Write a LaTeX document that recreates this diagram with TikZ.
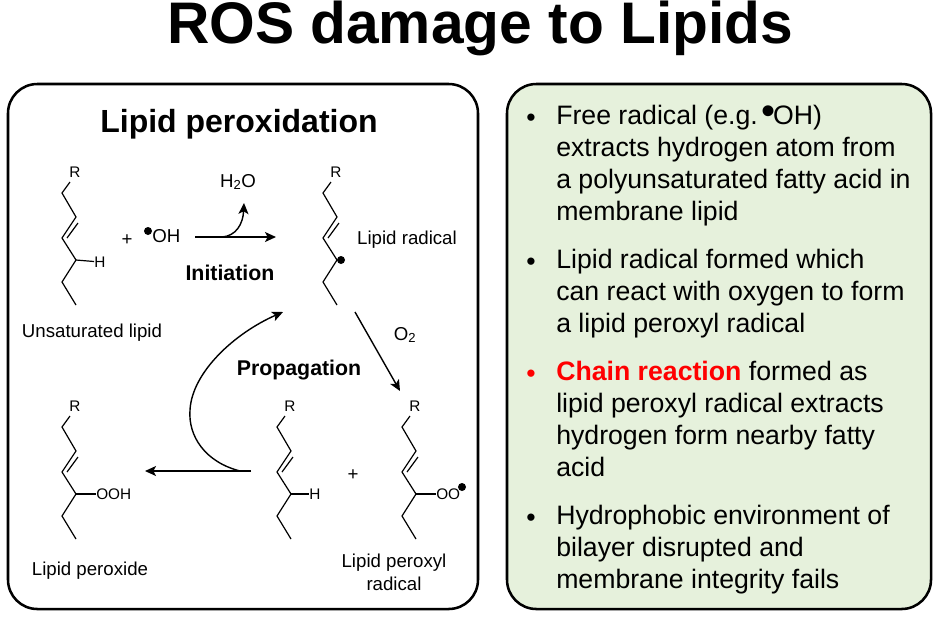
\documentclass[tikz,border=0pt]{standalone}
\usepackage{fontspec}
\setmainfont{Liberation Sans}
\usetikzlibrary{arrows.meta}
\newcommand{\raddot}{\kern-4.5pt\raisebox{0.02em}{\fontsize{30}{30}\selectfont •}\kern-2pt}
\tikzset{
  panel/.style = {draw, line width=1.9pt, rounded corners=22pt},
  bond/.style = {line width=0.9pt, line join=miter},
  atom/.style = {inner sep=0pt, font=\fontsize{11.5}{12}\selectfont},
  label/.style = {inner sep=0pt, align=center, font=\fontsize{14}{17.25}\selectfont},
  stage/.style = {inner sep=0pt, font=\fontsize{16}{19}\selectfont\bfseries},
  para/.style = {anchor=north west, inner sep=0pt, align=left, font=\fontsize{20}{24}\selectfont},
  raddotnode/.style = {circle, fill, inner sep=0pt, minimum size=6pt},
  reaction/.style = {line width=1.05pt, -{Stealth[length=8.25pt, width=7.5pt, inset=2pt]}},
  lipid/.pic = {
    \node[atom] (-r) at (13,-21) {R};
    \coordinate (-c) at (14,67);
    \draw[bond] (8,-11) -- (0,0) -- (14,24) -- (0,45) -- (-c) -- (0,89) -- (14,112);
    \draw[bond] (16,30) -- (5,45);
  }
}
\begin{document}
\begin{tikzpicture}[x=0.75pt, y=-0.75pt]
  \useasboundingbox (0,0) rectangle (937,633);
  % title and panels
  \node[inner sep=0pt, anchor=base, font=\fontsize{44}{48}\selectfont\bfseries] (title) at (480,43.5) {ROS damage to Lipids};
  \draw[panel] (8,84) rectangle (478,609);
  \draw[panel, fill={rgb,255:red,230;green,241;blue,220}] (507,84) rectangle (931,609);
  \node[inner sep=0pt, font=\fontsize{24}{28}\selectfont\bfseries] (peroxidation) at (239,124) {Lipid peroxidation};

  % molecules
  \pic (unsat) at (62,193) {lipid};
  \pic (radical) at (323,193) {lipid};
  \pic (peroxide) at (62,427) {lipid};
  \pic (nearby) at (277,427) {lipid};
  \pic (peroxyl) at (402,427) {lipid};

  \node[atom] (unsatH) at (100,262) {H};
  \draw[bond] (unsat-c) -- (unsatH);
  \node[raddotnode] (radicaldot) at (341,260) {};
  \node[atom, anchor=west] (peroxideOOH) at (96,494) {OOH};
  \draw[bond] (peroxide-c) -- (peroxideOOH);
  \node[atom] (nearbyH) at (315,494) {H};
  \draw[bond] (nearby-c) -- (nearbyH);
  \node[atom, anchor=west] (peroxylOO) at (436,494) {OO};
  \draw[bond] (peroxyl-c) -- (peroxylOO);
  \node[raddotnode] (peroxyldot) at (462,487) {};

  % labels
  \node[label] (plus1) at (127,240) {+};
  \node[raddotnode] (ohdot) at (148,231) {};
  \node[label, anchor=west] (oh) at (152,236) {OH};
  \node[label] (water) at (238,182) {H\textsubscript{2}O};
  \node[stage] (initiation) at (230,273) {Initiation};
  \node[stage] (propagation) at (299,370) {Propagation};
  \node[label] (radicallabel) at (407,240) {Lipid radical};
  \node[label] (unsatlabel) at (92,333) {Unsaturated lipid};
  \node[label] (oxygen) at (405,335) {O\textsubscript{2}};
  \node[label] (plus2) at (353,475) {+};
  \node[label] (peroxidelabel) at (90,571) {Lipid peroxide};
  \node[label] (peroxyllabel) at (394,572) {Lipid peroxyl\\radical};

  % arrows
  \coordinate (init1) at (195,237);
  \coordinate (init2) at (276,237);
  \coordinate (initbranch) at (222,237);
  \coordinate (watertip) at (244,203);
  \coordinate (oxy1) at (355,312);
  \coordinate (oxy2) at (400,391);
  \coordinate (prop1) at (251,471);
  \coordinate (prop2) at (145,471);
  \coordinate (loop1) at (240,471);
  \coordinate (loop2) at (283,312);
  \draw[reaction] (init1) -- (init2);
  \draw[reaction] (initbranch) .. controls (236,236) and (243,224) .. (watertip);
  \draw[reaction] (oxy1) -- (oxy2);
  \draw[reaction] (prop1) -- (prop2);
  \draw[reaction] (loop1) .. controls (205,462) and (188,436) .. (190,410) .. controls (192,372) and (235,333) .. (loop2);

  % right panel
  \foreach \y/\col in {120/black,264/black,376/red,520/black}
    \node[font=\fontsize{20}{24}\selectfont, text=\col, inner sep=0pt] (bullet\y) at (531,\y) {•};
  \node[para] (text1) at (556,105) {Free radical (e.g. \raddot OH)\\extracts hydrogen atom from\\a polyunsaturated fatty acid in\\membrane lipid};
  \node[para] (text2) at (556,249) {Lipid radical formed which\\can react with oxygen to form\\a lipid peroxyl radical};
  \node[para] (text3) at (556,361) {\textcolor{red}{\bfseries Chain reaction} formed as\\lipid peroxyl radical extracts\\hydrogen form nearby fatty\\acid};
  \node[para] (text4) at (556,505) {Hydrophobic environment of\\bilayer disrupted and\\membrane integrity fails};
\end{tikzpicture}
\end{document}
